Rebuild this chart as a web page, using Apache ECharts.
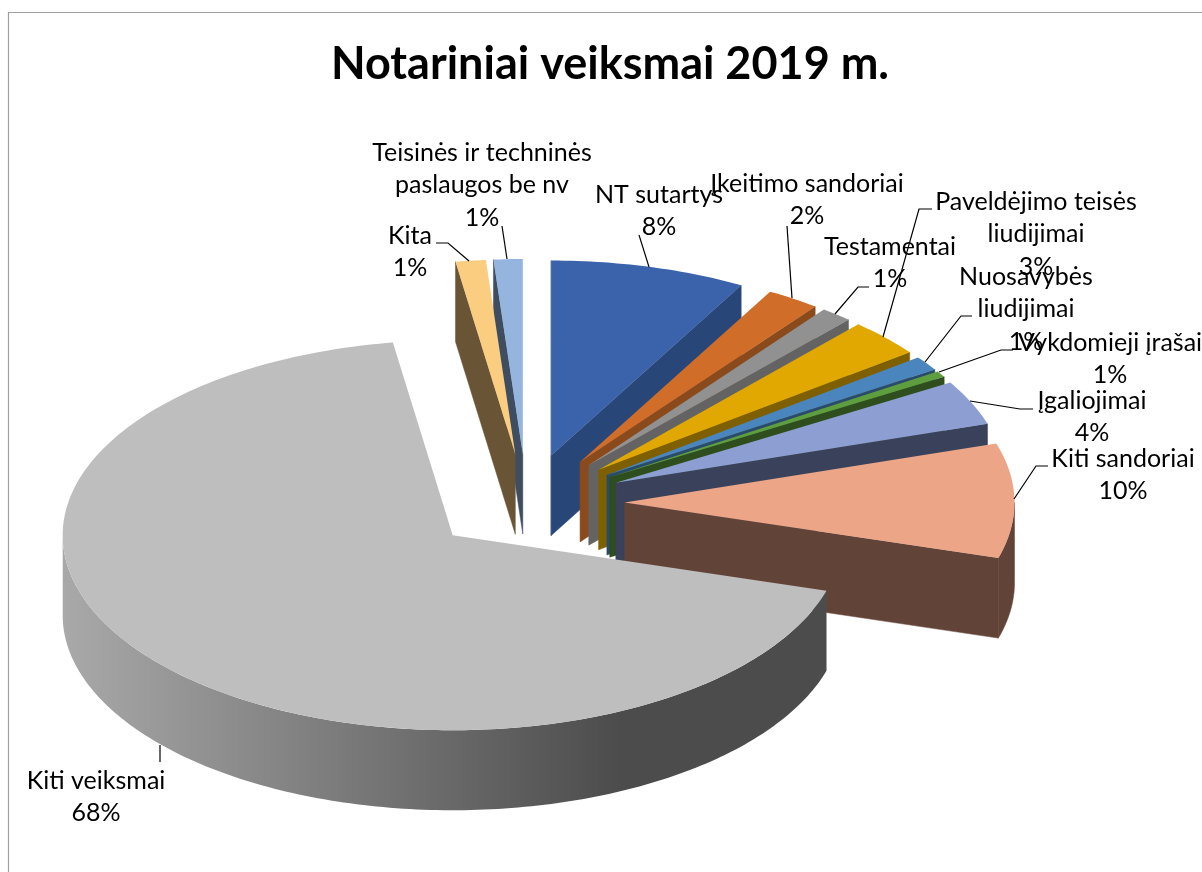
<!DOCTYPE html>
<html>
<head>
<meta charset="utf-8">
<style>html,body{margin:0;padding:0;background:#fff}#chart{width:1202px;height:872px}</style>
<script src="https://cdn.jsdelivr.net/npm/echarts@6/dist/echarts.min.js"></script>
</head>
<body>
<div id="chart"></div>
<script>
var chartTitle = 'Notariniai veiksmai 2019 m.';
var categories = ['NT sutartys','Įkeitimo sandoriai','Testamentai','Paveldėjimo teisės\nliudijimai','Nuosavybės\nliudijimai','Vykdomieji įrašai','Įgaliojimai','Kiti sandoriai','Kiti veiksmai','Kita','Teisinės ir techninės\npaslaugos be nv'];
var values = [8.1, 2.2, 1.3, 3.1, 1.2, 0.5, 3.7, 9.5, 67.95, 1.25, 1.2];
var topColors = ['#3A63AB','#D06D28','#919191','#E0A800','#4A86BD','#5F9E3E','#8C9ED2','#EDA588','#BEBEBE','#FBCD80','#95B5DE'];
var wallColors = ['#284678','#8B4A1C','#636363','#7F6000','#2A4C6C','#2F4E1E','#39425A','#614338','#4C4C4C','#695535','#3E4E60'];
// label layout: [centre x, centre y of the text block]
var labelAt = [[659,211],[807,200],[890,263],[1036,234],[1026,309],[1110,359],[1092,417],[1123,475],[96,797],[410,252],[482,185]];
// leader-line layout
var leaders = [
  [[639,235],[649,267]],
  [[787,226],[792,298]],
  [[869,287],[858,287],[835,314]],
  [[932,209],[919,209],[883,337]],
  [[972,316],[961,316],[925,362]],
  [[1013,350],[1001,350],[939,372]],
  [[1033,409],[1020,409],[970,401]],
  [[1048,466],[1036,466],[1014,499]],
  [[160,745],[160,762]],
  [[436,243],[448,243],[469,261]],
  [[502,226],[507,259]]
];
// projection of the tilted pie
var pie = {cx:526.5, cy:503, r:390, tilt:0.5, explode:98, depth:80};
var FONT = 'Lato, "Open Sans", sans-serif';

var total = values.reduce(function(a,b){return a+b;},0);
var starts = [], acc = 0;
values.forEach(function(v){ starts.push(acc/total*Math.PI*2); acc += v; });

function project(ax, ay, th, dz){
  return [ax + pie.r*Math.sin(th), ay - pie.r*pie.tilt*Math.cos(th) + (dz||0)];
}
function arcPts(ax, ay, a, b, dz){
  var n = Math.max(2, Math.ceil(Math.abs(b-a)/(Math.PI/180))), out = [];
  for (var i=0;i<=n;i++) out.push(project(ax, ay, a+(b-a)*i/n, dz));
  return out;
}
function poly(points, fill, z2, edge){
  return {type:'polygon', z2:z2, shape:{points:points}, style:{fill:fill, stroke:edge ? fill : null, lineWidth:edge ? 0.5 : 0}, silent:true};
}
// a cut wall shows only when the top face lies above its edge
function wallVisible(ax, ay, t, inner){
  var p = project(ax, ay, t), q = project(ax, ay, inner);
  var ex = p[0]-ax, ey = p[1]-ay, qx = q[0]-ax, qy = q[1]-ay;
  var cross = ex*qy - ey*qx;
  return ex > 0 ? cross < 0 : cross > 0;
}
function renderItem(params, api){
  var i = params.dataIndex, v = api.value(1);
  var a = starts[i], b = a + v/total*Math.PI*2, mid = (a+b)/2;
  var ax = pie.cx + pie.explode*Math.sin(mid);
  var ay = pie.cy - pie.explode*pie.tilt*Math.cos(mid);
  var d = pie.depth, eps = 0.002;
  var z = Math.round((1 - Math.cos(mid))*1000);
  var kids = [];
  [[a, a+eps],[b, b-eps]].forEach(function(w){
    if (!wallVisible(ax, ay, w[0], w[1])) return;
    var p = project(ax, ay, w[0]);
    kids.push(poly([[ax,ay],p,[p[0],p[1]+d],[ax,ay+d]], wallColors[i], z, true));
  });
  // outer rim: only the part facing the viewer (90..270 degrees)
  var ra = Math.max(a, Math.PI/2), rb = Math.min(b, Math.PI*1.5);
  if (rb > ra){
    var fill = wallColors[i];
    if (i === 8){
      fill = {type:'linear', x:0, y:0, x2:1, y2:0, colorStops:[{offset:0,color:'#A9A9A9'},{offset:0.73,color:'#4C4C4C'},{offset:1,color:'#4C4C4C'}]};
    }
    kids.push(poly(arcPts(ax, ay, ra, rb).concat(arcPts(ax, ay, rb, ra, d)), fill, z+1, i !== 8));
  }
  // top face
  kids.push(poly([[ax,ay]].concat(arcPts(ax, ay, a, b)), topColors[i], z+2, false));
  return {type:'group', children:kids};
}
function renderLabel(params, api){
  var i = params.dataIndex;
  return {type:'group', children:[
    {type:'polyline', z2:5000, silent:true, shape:{points:leaders[i]}, style:{fill:null, stroke:'#000', lineWidth:1.2}},
    {type:'text', z2:5001, silent:true, x:labelAt[i][0], y:labelAt[i][1], style:{
      text: categories[i] + '\n' + Math.round(api.value(1)) + '%',
      font: '25px ' + FONT, lineHeight:32.5, fill:'#000', align:'center', verticalAlign:'middle'
    }}
  ]};
}
var rows = values.map(function(v,i){ return [i, v]; });
var chart = echarts.init(document.getElementById('chart'), null, {renderer:'canvas', width:1202, height:872});
chart.setOption({
  animation:false,
  backgroundColor:'#fff',
  title:{text:chartTitle, left:605, top:37, textAlign:'center', textStyle:{fontFamily:FONT, fontWeight:'bold', fontSize:45, color:'#000'}},
  tooltip:{show:false},
  graphic:[{type:'rect', z:-1, silent:true, shape:{x:8.5,y:12.5,width:1400,height:1000}, style:{fill:null, stroke:'#A0A0A0', lineWidth:1.2}}],
  series:[
    {type:'custom', coordinateSystem:'none', renderItem:renderItem, data:rows, z:2, silent:true},
    {type:'custom', coordinateSystem:'none', renderItem:renderLabel, data:rows, z:3, silent:true}
  ]
});
</script>
</body>
</html>
